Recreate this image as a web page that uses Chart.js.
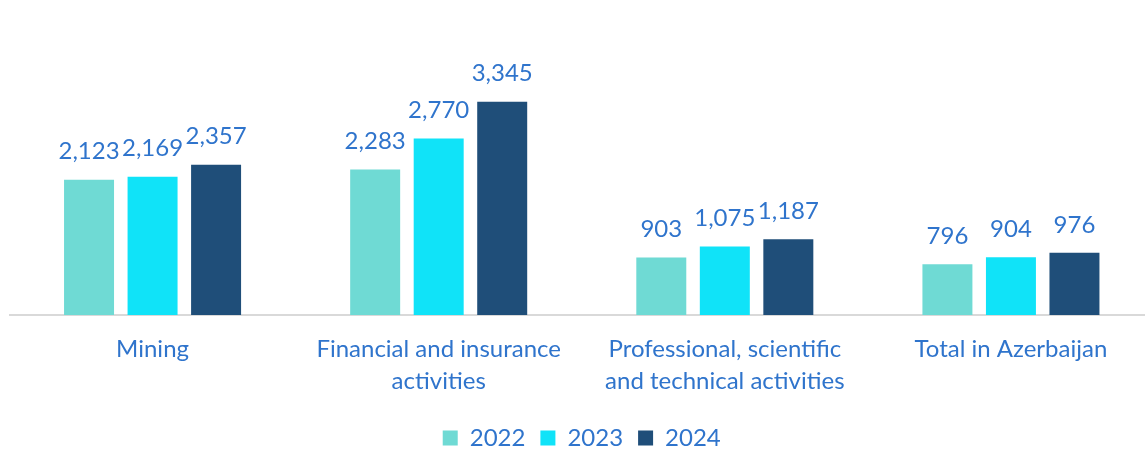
<!DOCTYPE html>
<html>
<head>
<meta charset="utf-8">
<script src="https://cdn.jsdelivr.net/npm/chart.js@4"></script>
<style>
  html, body { margin: 0; padding: 0; background: #fff; overflow: hidden; }
  #wrap { width: 1154px; height: 451px; }
</style>
</head>
<body>
<div id="wrap"><canvas id="chart" width="1154" height="451"></canvas></div>
<script>
const categories = [
  'Mining',
  ['Financial and insurance', 'activities'],
  ['Professional, scientific', 'and technical activities'],
  'Total in Azerbaijan'
];
const years = ['2022', '2023', '2024'];
const values2022 = [2123, 2283, 903, 796];
const values2023 = [2169, 2770, 1075, 904];
const values2024 = [2357, 3345, 1187, 976];
const colors = ['#6FDAD4', '#10E3F8', '#1F4E79'];

const textColor = '#2F74CC';
const fontFamily = 'Lato, "Open Sans", sans-serif';

// value labels above the bars
const barLabels = {
  id: 'barLabels',
  afterDatasetsDraw(chart) {
    const ctx = chart.ctx;
    ctx.save();
    ctx.fillStyle = textColor;
    ctx.font = '24px ' + fontFamily;
    ctx.textAlign = 'center';
    ctx.textBaseline = 'middle';
    chart.data.datasets.forEach((ds, i) => {
      chart.getDatasetMeta(i).data.forEach((bar, j) => {
        ctx.fillText(ds.data[j].toLocaleString('en-US'), bar.x, bar.y - 28);
      });
    });
    ctx.restore();
  }
};

new Chart(document.getElementById('chart'), {
  type: 'bar',
  data: {
    labels: categories,
    datasets: [
      { label: years[0], data: values2022, backgroundColor: colors[0] },
      { label: years[1], data: values2023, backgroundColor: colors[1] },
      { label: years[2], data: values2024, backgroundColor: colors[2] }
    ]
  },
  options: {
    responsive: false,
    animation: false,
    layout: { padding: { left: 9.5, right: 0, top: 60, bottom: -9 } },
    datasets: { bar: { categoryPercentage: 0.666, barPercentage: 0.787 } },
    plugins: {
      legend: {
        position: 'bottom',
        labels: {
          color: textColor,
          font: { family: fontFamily, size: 24 },
          boxWidth: 15,
          boxHeight: 15,
          padding: 15
        }
      },
      tooltip: { enabled: false }
    },
    scales: {
      x: {
        grid: { display: false },
        border: { color: '#D9D9D9', width: 2 },
        ticks: {
          color: textColor,
          font: { family: fontFamily, size: 24, lineHeight: 1.33 },
          padding: 10,
          maxRotation: 0
        },
        afterFit(scale) { scale.height = 96; }
      },
      y: {
        display: false,
        min: 0,
        max: 4000
      }
    }
  },
  plugins: [barLabels]
});
</script>
</body>
</html>
